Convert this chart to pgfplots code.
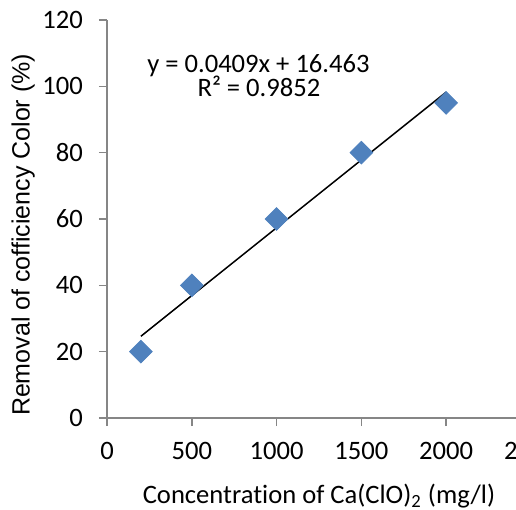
\documentclass[border=0pt]{standalone}
\usepackage{pgfplots}
\pgfplotsset{compat=1.18}
\usepackage{fontspec}
\setmainfont{Carlito}[Ligatures=NoCommon]
\newfontfamily\arialfont{Liberation Sans}
\definecolor{axisgray}{HTML}{868686}
\definecolor{markblue}{HTML}{4F81BD}
\begin{document}
\begin{tikzpicture}
\begin{axis}[
  scale only axis, width=212pt, height=199pt,
  xmin=0, xmax=2500, ymin=0, ymax=120,
  xtick={0,500,1000,1500,2000,2500}, ytick={0,20,40,60,80,100,120},
  axis x line*=bottom, axis y line*=left,
  axis line style={-, draw=axisgray, line width=0.75pt},
  tick align=outside, major tick length=4pt,
  tick style={draw=axisgray, line width=0.75pt},
  /pgf/number format/assume math mode=true,
  /pgf/number format/1000 sep={},
  tick label style={font=\fontsize{13.3}{16}\selectfont, text=black},
  yticklabel style={xshift=-4.5pt},
  xticklabel style={yshift=-4.5pt},
  xlabel={Concentration of Ca(ClO)\textsubscript{2} (mg/l)},
  xlabel style={font=\fontsize{13.3}{16}\selectfont, at={(axis description cs:0.5,0)}, anchor=base, yshift=-42.5pt},
  ylabel={Removal of cofficiency Color (\%)},
  ylabel style={font=\arialfont\fontsize{12.5}{15}\selectfont, at={(axis description cs:-0.198,0.46)}, anchor=center, rotate=0},
  clip=false,
]
\addplot[only marks, mark=square*, mark size=4pt, mark options={rotate=45, fill=markblue, draw=markblue}]
  coordinates {(200,20) (500,40) (1000,60) (1500,80) (2000,95)};
\addplot[black, line width=0.75pt] coordinates {(200,24.643) (2000,98.263)};
\node[font=\fontsize{13.3}{16}\selectfont, anchor=base] at (axis cs:893,104.3) {y = 0.0409x + 16.463};
\node[font=\fontsize{13.3}{16}\selectfont, anchor=base] at (axis cs:896,96.8) {R² = 0.9852};
\end{axis}
\pgfresetboundingbox
\path (-53.5pt,-46pt) rectangle (204.5pt,209pt);
\end{tikzpicture}
\end{document}
